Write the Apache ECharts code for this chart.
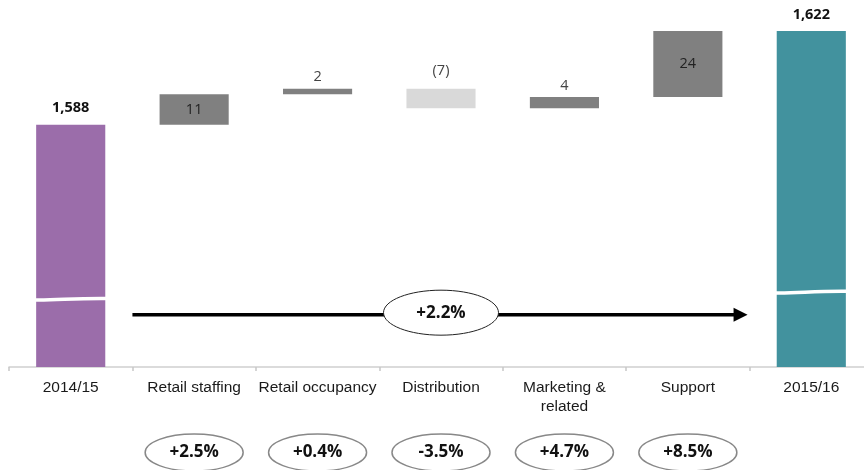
<!DOCTYPE html>
<html>
<head>
<meta charset="utf-8">
<script src="https://cdn.jsdelivr.net/npm/echarts@6/dist/echarts.min.js"></script>
<style>html,body{margin:0;padding:0;background:#fff;}#chart{width:864px;height:470px;}</style>
</head>
<body>
<div id="chart"></div>
<script>
// ---- data ----
const categories = ['2014/15', 'Retail staffing', 'Retail occupancy', 'Distribution', 'Marketing &\nrelated', 'Support', '2015/16'];
const startValue = 1588;
const deltas = [11, 2, -7, 4, 24];          // Retail staffing .. Support
const endValue = 1622;
const deltaGrowth = ['+2.5%', '+0.4%', '-3.5%', '+4.7%', '+8.5%'];
const totalGrowth = '+2.2%';

// ---- build waterfall ----
const baseData = [0];
const barData = [startValue];
let running = startValue;
deltas.forEach(d => {
  const next = running + d;
  baseData.push(Math.min(running, next));
  barData.push(Math.abs(d));
  running = next;
});
baseData.push(0);
barData.push(endValue);

const PURPLE = '#9b6daa', TEAL = '#42929e', GREY = '#808080', LIGHT = '#d9d9d9';
const Y_MIN = 1500, Y_MAX = 1630;

const valueItems = barData.map((v, i) => {
  if (i === 0 || i === categories.length - 1) {
    return {
      value: v,
      itemStyle: { color: i === 0 ? PURPLE : TEAL },
      label: { show: true, position: 'top', distance: 9, formatter: () => v.toLocaleString('en-US'),
               fontFamily: 'Open Sans', fontWeight: 'bold', fontSize: 14.5, color: '#111' }
    };
  }
  const d = deltas[i - 1];
  const big = Math.abs(d) >= 10;
  return {
    value: v,
    itemStyle: { color: d < 0 ? LIGHT : GREY },
    label: {
      show: true,
      position: big ? 'inside' : 'top',
      distance: d < 0 ? 10 : 4,
      formatter: () => d < 0 ? '(' + Math.abs(d) + ')' : String(d),
      fontFamily: 'Open Sans', fontSize: 14.5, color: big ? '#222' : '#444'
    }
  };
});

const chart = echarts.init(document.getElementById('chart'));
chart.setOption({
  animation: false,
  backgroundColor: '#fff',
  grid: { left: 9, width: 864, top: 9, bottom: 103, containLabel: false, outerBoundsMode: 'none' },
  xAxis: {
    type: 'category',
    data: categories,
    axisLine: { lineStyle: { color: '#d0d0d0', width: 1.5 } },
    axisTick: { show: true, length: 4, lineStyle: { color: '#c8c8c8', width: 1.5 } },
    axisLabel: { fontFamily: 'Liberation Sans', fontSize: 15.5, color: '#1a1a1a', margin: 11, lineHeight: 19, interval: 0 }
  },
  yAxis: { type: 'value', min: Y_MIN, max: Y_MAX, show: false, splitLine: { show: false } },
  series: [
    { type: 'bar', stack: 'w', data: baseData, itemStyle: { color: 'transparent' }, barWidth: '56%', silent: true },
    { type: 'bar', stack: 'w', data: valueItems, barWidth: '56%' },
    // axis-break marks on the two total bars
    {
      type: 'custom', z: 5, silent: true,
      data: [[0, 1524.6], [categories.length - 1, 1527.2]],
      renderItem: (params, api) => {
        const p = api.coord([api.value(0), api.value(1)]);
        const w = api.size([1, 0])[0] * 0.56;
        const x0 = p[0] - w / 2 - 2, x1 = p[0] + w / 2 + 2, y = p[1];
        return {
          type: 'bezierCurve',
          shape: { x1: x0, y1: y + 0.8, cpx1: x0 + w * 0.35, cpy1: y + 1.2, cpx2: x0 + w * 0.55, cpy2: y - 1.2, x2: x1, y2: y - 0.8 },
          style: { stroke: '#fff', lineWidth: 3.5, fill: null }
        };
      }
    },
    // overall growth arrow with ellipse
    {
      type: 'custom', z: 6, silent: true, clip: false,
      data: [[0]],
      renderItem: (params, api) => {
        const band = api.size([1, 0])[0];
        const yArrow = api.coord([0, 1519])[1];
        const xStart = api.coord([0, Y_MIN])[0] + band / 2;
        const xEnd = api.coord([categories.length - 1, Y_MIN])[0] - band / 2 - 2;
        const xMid = api.coord([3, Y_MIN])[0];
        return {
          type: 'group',
          children: [
            { type: 'line', shape: { x1: xStart, y1: yArrow, x2: xEnd - 12, y2: yArrow }, style: { stroke: '#000', lineWidth: 3.5 } },
            { type: 'polygon', shape: { points: [[xEnd - 14, yArrow - 7], [xEnd, yArrow], [xEnd - 14, yArrow + 7]] }, style: { fill: '#000' } },
            { type: 'ellipse', shape: { cx: xMid, cy: yArrow - 2, rx: 57.5, ry: 22.5 }, style: { fill: '#fff', stroke: '#222', lineWidth: 1 } },
            { type: 'text', x: xMid, y: yArrow - 2, style: { text: totalGrowth, align: 'center', verticalAlign: 'middle',
              font: 'bold 17px "Open Sans"', fill: '#111' } }
          ]
        };
      }
    },
    // per-category growth ellipses below the axis
    {
      type: 'custom', z: 6, silent: true, clip: false,
      data: deltaGrowth.map((g, i) => [i + 1]),
      renderItem: (params, api) => {
        const p = api.coord([api.value(0), Y_MIN]);
        const cy = p[1] + 85.5;
        return {
          type: 'group',
          children: [
            { type: 'ellipse', shape: { cx: p[0], cy: cy, rx: 49, ry: 18.5 }, style: { fill: '#fff', stroke: '#888', lineWidth: 1.5 } },
            { type: 'text', x: p[0], y: cy, style: { text: deltaGrowth[params.dataIndex], align: 'center', verticalAlign: 'middle',
              font: 'bold 17px "Open Sans"', fill: '#111' } }
          ]
        };
      }
    }
  ]
});
</script>
</body>
</html>
